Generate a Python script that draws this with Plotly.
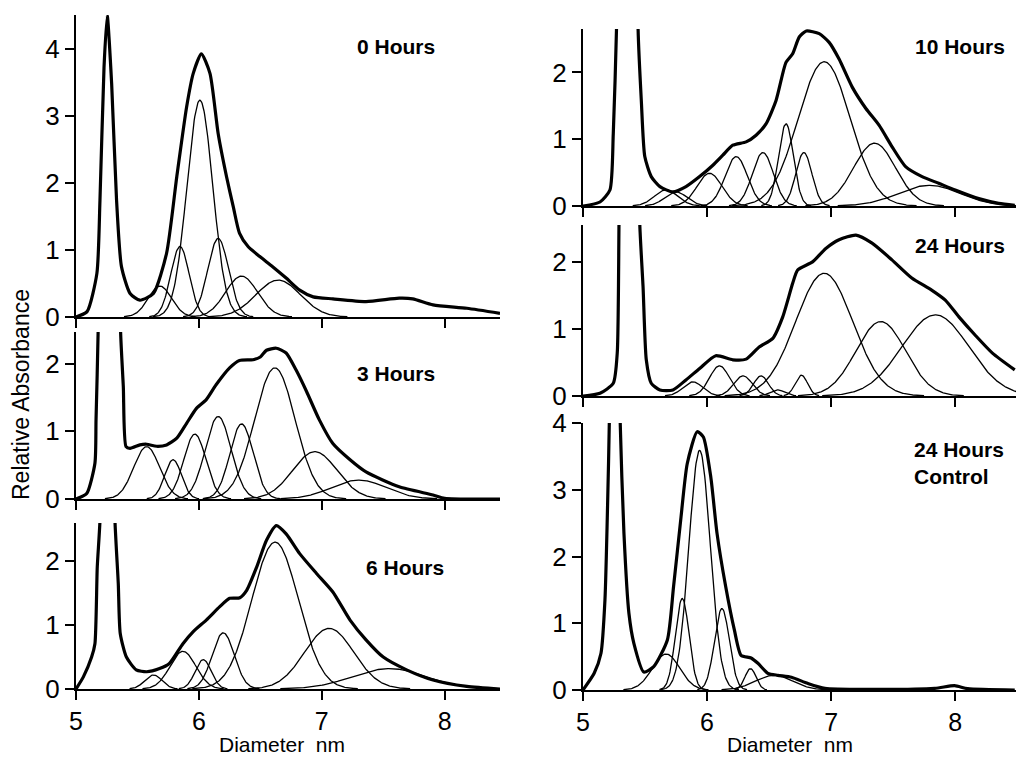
import numpy as np
import plotly.graph_objects as go

W, H = 1016, 757
FONT = "Liberation Sans, Arial, Helvetica, sans-serif"

# ---------------- data ----------------
# Measured envelopes (thick curves): x = diameter (nm), y = relative absorbance
env0_x = [5.0, 5.09, 5.17, 5.195, 5.228, 5.254, 5.29, 5.33, 5.37, 5.44, 5.52, 5.63, 5.737, 5.82, 5.90,
          5.954, 6.02, 6.09, 6.157, 6.225, 6.28, 6.33, 6.40, 6.496, 6.60, 6.71, 6.82, 6.93, 7.09, 7.36,
          7.63, 7.74, 7.905, 8.18, 8.45]
env0_y = [0, 0.08, 0.65, 1.74, 3.72, 4.49, 3.48, 1.74, 0.75, 0.35, 0.25, 0.35, 0.95, 2.09, 3.13,
          3.63, 3.92, 3.63, 2.73, 2.09, 1.64, 1.25, 1.05, 0.90, 0.75, 0.58, 0.40, 0.30, 0.27, 0.23,
          0.28, 0.27, 0.18, 0.13, 0.055]

env3_x = [5.0, 5.087, 5.154, 5.163, 5.18, 5.185, 5.27, 5.355, 5.363, 5.385, 5.407, 5.44, 5.52, 5.575,
          5.656, 5.737, 5.82, 5.90, 5.98, 6.06, 6.14, 6.25, 6.33, 6.44, 6.50, 6.55, 6.63, 6.71, 6.79,
          6.876, 6.98, 7.09, 7.23, 7.36, 7.63, 7.905, 8.0, 8.45]
env3_y = [0, 0.08, 0.53, 1.17, 2.47, 4.0, 8.0, 4.0, 2.47, 1.66, 0.775, 0.75, 0.80, 0.81,
          0.78, 0.80, 0.90, 1.12, 1.34, 1.47, 1.69, 1.94, 2.05, 2.06, 2.10, 2.20, 2.23, 2.16, 1.91,
          1.59, 1.17, 0.82, 0.58, 0.40, 0.18, 0.06, 0.01, 0.0]

env6_x = [5.0, 5.06, 5.127, 5.154, 5.173, 5.195, 5.20, 5.26, 5.31, 5.317, 5.344, 5.36, 5.41, 5.49,
          5.575, 5.68, 5.76, 5.87, 5.954, 6.06, 6.17, 6.25, 6.333, 6.39, 6.47, 6.55, 6.63, 6.71,
          6.82, 6.957, 7.09, 7.23, 7.36, 7.50, 7.69, 7.905, 8.18, 8.45]
env6_y = [0, 0.19, 0.50, 0.71, 1.91, 2.64, 4.0, 8.0, 4.0, 2.64, 1.65, 0.87, 0.50, 0.30,
          0.27, 0.32, 0.40, 0.71, 0.90, 1.08, 1.29, 1.42, 1.43, 1.55, 1.91, 2.33, 2.56, 2.43,
          2.12, 1.81, 1.52, 1.08, 0.77, 0.50, 0.30, 0.14, 0.04, 0.0]

env10_x = [5.0, 5.137, 5.217, 5.244, 5.27, 5.28, 5.36, 5.44, 5.444, 5.47, 5.498, 5.55, 5.62, 5.725,
           5.83, 5.94, 6.047, 6.127, 6.207, 6.315, 6.395, 6.475, 6.556, 6.636, 6.69, 6.743, 6.80,
           6.904, 6.984, 7.064, 7.17, 7.28, 7.386, 7.49, 7.60, 7.733, 7.867, 8.0, 8.19, 8.35, 8.48]
env10_y = [0.0, 0.06, 0.24, 1.08, 2.65, 4.0, 8.0, 4.0, 2.65, 1.58, 0.74, 0.44, 0.29, 0.21,
           0.29, 0.44, 0.61, 0.76, 0.91, 0.96, 1.06, 1.23, 1.58, 2.15, 2.28, 2.53, 2.62,
           2.58, 2.45, 2.20, 1.78, 1.46, 1.21, 0.89, 0.59, 0.44, 0.34, 0.24, 0.11, 0.04, 0.01]

env24_x = [5.0, 5.137, 5.244, 5.276, 5.29, 5.30, 5.37, 5.45, 5.458, 5.484, 5.51, 5.55, 5.62, 5.725,
           5.83, 5.94, 6.07, 6.207, 6.315, 6.42, 6.53, 6.61, 6.69, 6.73, 6.85, 6.957, 7.064, 7.20,
           7.33, 7.49, 7.65, 7.81, 7.92, 8.03, 8.16, 8.30, 8.48]
env24_y = [0, 0.04, 0.19, 0.64, 2.55, 4.0, 8.0, 4.0, 2.55, 1.63, 0.54, 0.19, 0.09, 0.09,
           0.24, 0.41, 0.60, 0.54, 0.55, 0.73, 0.86, 1.18, 1.68, 1.88, 2.0, 2.20, 2.33, 2.40,
           2.28, 2.03, 1.76, 1.58, 1.43, 1.18, 0.91, 0.64, 0.39]

envC_x = [5.0, 5.09, 5.145, 5.177, 5.199, 5.212, 5.22, 5.255, 5.29, 5.30, 5.33, 5.37, 5.41, 5.49,
          5.57, 5.68, 5.73, 5.79, 5.84, 5.92, 5.97, 6.03, 6.08, 6.15, 6.22, 6.274, 6.355, 6.41,
          6.49, 6.57, 6.68, 6.81, 6.95, 7.3, 7.835, 7.995, 8.10, 8.48]
envC_y = [0, 0.25, 0.55, 1.35, 2.84, 4.0, 6.0, 10.0, 6.0, 4.0, 2.35, 1.15, 0.70, 0.27,
          0.35, 0.75, 1.55, 2.59, 3.39, 3.87, 3.79, 3.19, 2.35, 1.55, 0.90, 0.52, 0.48, 0.40,
          0.25, 0.22, 0.19, 0.10, 0.025, 0.01, 0.025, 0.065, 0.02, 0.0]

# Fitted Gaussian components (thin curves): centre (nm), height, width sigma (nm)
comp0_c = [5.683, 5.846, 6.008, 6.157, 6.347, 6.645]
comp0_h = [0.46, 1.05, 3.23, 1.17, 0.61, 0.55]
comp0_s = [0.095, 0.075, 0.105, 0.085, 0.13, 0.18]

comp3_c = [5.575, 5.79, 5.967, 6.157, 6.347, 6.618, 6.943, 7.30]
comp3_h = [0.775, 0.58, 0.96, 1.22, 1.11, 1.94, 0.70, 0.28]
comp3_s = [0.105, 0.068, 0.09, 0.105, 0.095, 0.165, 0.18, 0.22]

comp6_c = [5.63, 5.87, 6.035, 6.198, 6.62, 7.06, 7.55]
comp6_h = [0.22, 0.59, 0.46, 0.88, 2.30, 0.95, 0.32]
comp6_s = [0.07, 0.105, 0.065, 0.09, 0.19, 0.20, 0.30]

comp10_c = [5.67, 5.75, 6.02, 6.235, 6.45, 6.636, 6.78, 6.944, 7.35, 7.79]
comp10_h = [0.24, 0.21, 0.49, 0.74, 0.80, 1.23, 0.80, 2.16, 0.94, 0.31]
comp10_s = [0.095, 0.09, 0.10, 0.09, 0.085, 0.06, 0.065, 0.21, 0.17, 0.25]

comp24_c = [5.886, 6.10, 6.29, 6.435, 6.57, 6.76, 6.944, 7.40, 7.84]
comp24_h = [0.21, 0.45, 0.30, 0.30, 0.09, 0.31, 1.83, 1.11, 1.21]
comp24_s = [0.08, 0.08, 0.075, 0.06, 0.06, 0.05, 0.23, 0.20, 0.27]

compC_c = [5.67, 5.80, 5.94, 6.12, 6.35, 6.54]
compC_h = [0.54, 1.37, 3.59, 1.22, 0.32, 0.22]
compC_s = [0.11, 0.055, 0.086, 0.06, 0.045, 0.15]

panel_labels = ["0 Hours", "3 Hours", "6 Hours", "10 Hours", "24 Hours", "24 Hours<br>Control"]
x_ticks = [5, 6, 7, 8]
y_ticks_tall = [0, 1, 2, 3, 4]
y_ticks_short = [0, 1, 2]

# ---------------- layout geometry (pixels) ----------------
# (x_left_px, x_right_px, x_max, y_bottom_px, y_top_px, y_max, yticks, show x labels)
panels = [
    (env0_x, env0_y, comp0_c, comp0_h, comp0_s, (76, 500, 8.45, 317, 15, 4.5, y_ticks_tall, False)),
    (env3_x, env3_y, comp3_c, comp3_h, comp3_s, (76, 500, 8.45, 499, 332, 2.47, y_ticks_short, False)),
    (env6_x, env6_y, comp6_c, comp6_h, comp6_s, (76, 500, 8.45, 689, 523, 2.6, y_ticks_short, True)),
    (env10_x, env10_y, comp10_c, comp10_h, comp10_s, (583, 1016, 8.49, 206, 29, 2.65, y_ticks_short, False)),
    (env24_x, env24_y, comp24_c, comp24_h, comp24_s, (583, 1016, 8.49, 396, 225, 2.55, y_ticks_short, False)),
    (envC_x, envC_y, compC_c, compC_h, compC_s, (583, 1016, 8.49, 690, 423, 4.0, y_ticks_tall, True)),
]

fig = go.Figure()
layout = dict(
    template="none",
    width=W, height=H, margin=dict(l=0, r=0, t=0, b=0, pad=0, autoexpand=False),
    paper_bgcolor="white", plot_bgcolor="rgba(0,0,0,0)",
    showlegend=False, font=dict(family=FONT, color="black"),
)

xs = np.linspace(5.0, 8.5, 700)
for i, (ex, ey, cc, ch, cs, geo) in enumerate(panels):
    n = i + 1
    xl, xr, xmax, yb, yt, ymax, yticks, showx = geo
    xa = "x" if n == 1 else f"x{n}"
    ya = "y" if n == 1 else f"y{n}"
    # components
    for c, h, s in zip(cc, ch, cs):
        g = h * np.exp(-((xs - c) ** 2) / (2 * s * s))
        m = g > 0.004
        fig.add_trace(go.Scatter(x=xs[m], y=g[m], mode="lines", xaxis=xa, yaxis=ya,
                                 line=dict(color="black", width=1.3), hoverinfo="skip"))
    # envelope
    fig.add_trace(go.Scatter(x=ex, y=ey, mode="lines", xaxis=xa, yaxis=ya,
                             line=dict(color="black", width=3.2, shape="spline", smoothing=0.6),
                             hoverinfo="skip"))
    layout["xaxis" if n == 1 else f"xaxis{n}"] = dict(
        domain=[xl / W, xr / W], range=[5, xmax], anchor=ya, automargin=False,
        showgrid=False, zeroline=False, showline=True, linecolor="black", linewidth=2,
        ticks="outside", ticklen=9, tickwidth=2, tickcolor="black",
        tickvals=x_ticks, showticklabels=showx,
        tickfont=dict(size=25, family=FONT, color="black"),
    )
    layout["yaxis" if n == 1 else f"yaxis{n}"] = dict(
        domain=[1 - yb / H, 1 - yt / H], range=[0, ymax], anchor=xa, automargin=False,
        showgrid=False, zeroline=False, showline=True, linecolor="black", linewidth=2,
        ticks="outside", ticklen=9, tickwidth=2, tickcolor="black",
        tickvals=yticks, tickfont=dict(size=26, family=FONT, color="black"),
    )

fig.update_layout(**layout)

# panel labels
label_pos = [(396, 47, "center"), (396, 373, "center"), (405, 567, "center"),
             (960, 47, "center"), (960, 245, "center"), (912, 463, "left")]
for (px, py, al), txt in zip(label_pos, panel_labels):
    fig.add_annotation(x=px / W, y=1 - py / H, xref="paper", yref="paper",
                       text="<b>" + txt.replace("<br>", "</b><br><b>") + "</b>",
                       showarrow=False, xanchor=al, yanchor="middle", align="left",
                       font=dict(size=21, family=FONT, color="black"))

# axis titles
fig.add_annotation(x=21 / W, y=1 - 395 / H, xref="paper", yref="paper", text="Relative Absorbance",
                   textangle=-90, showarrow=False, xanchor="center", yanchor="middle",
                   font=dict(size=23, family=FONT, color="black"))
for cx in (282, 790):
    fig.add_annotation(x=cx / W, y=1 - 744 / H, xref="paper", yref="paper", text="Diameter&nbsp;&nbsp;nm",
                       showarrow=False, xanchor="center", yanchor="middle",
                       font=dict(size=21, family=FONT, color="black"))

fig.write_html("out.html")
